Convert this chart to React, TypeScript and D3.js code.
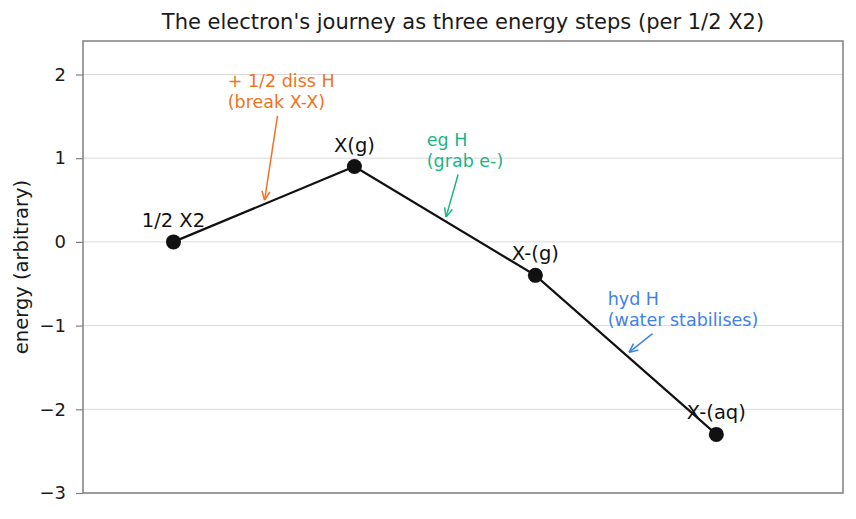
import { useEffect, useRef } from "react";
import * as d3 from "d3";

// Data
const stages = ["1/2 X2", "X(g)", "X-(g)", "X-(aq)"];
const energies = [0, 0.9, -0.4, -2.3];
const yTicks = [-3, -2, -1, 0, 1, 2];

const stepLines = [
  ["+ 1/2 diss H", "(break X-X)"],
  ["eg H", "(grab e-)"],
  ["hyd H", "(water stabilises)"],
];
const stepColors = ["#f07320", "#1bb585", "#3f82e8"];
const stepTextX = [0.3, 1.4, 2.4];
const stepTextY = [1.6, 0.9, -1.0];

export default function App() {
  const svgRef = useRef<SVGSVGElement>(null);

  useEffect(() => {
    if (!svgRef.current) return;
    const svg = d3.select(svgRef.current);
    svg.selectAll("*").remove();

    const width = 856;
    const height = 519;
    const margin = { top: 41, right: 13, bottom: 26, left: 83 };
    const innerW = width - margin.left - margin.right;
    const innerH = height - margin.top - margin.bottom;
    const font = "DejaVu Sans, sans-serif";

    const x = d3.scaleLinear().domain([-0.5, 3.7]).range([margin.left, margin.left + innerW]);
    const y = d3.scaleLinear().domain([-3, 2.4]).range([margin.top + innerH, margin.top]);

    svg.append("rect").attr("width", width).attr("height", height).attr("fill", "#fff");

    // Gridlines
    svg
      .append("g")
      .selectAll("line")
      .data(yTicks)
      .join("line")
      .attr("x1", margin.left)
      .attr("x2", margin.left + innerW)
      .attr("y1", (d) => y(d))
      .attr("y2", (d) => y(d))
      .attr("stroke", "#d6d6d6")
      .attr("stroke-width", 0.9);

    // Y axis
    const yAxis = svg
      .append("g")
      .attr("transform", `translate(${margin.left},0)`)
      .call(
        d3
          .axisLeft(y)
          .tickValues(yTicks)
          .tickSize(7)
          .tickPadding(10)
          .tickFormat((d) => d3.format("d")(d as number).replace("-", "\u2212"))
      );
    yAxis.select(".domain").remove();
    yAxis.selectAll("line").attr("stroke", "#7f7f7f").attr("stroke-width", 1.2);
    yAxis.selectAll("text").attr("fill", "#1a1a1a").style("font-size", "18px").style("font-family", font);

    // Frame
    svg
      .append("rect")
      .attr("x", margin.left)
      .attr("y", margin.top)
      .attr("width", innerW)
      .attr("height", innerH)
      .attr("fill", "none")
      .attr("stroke", "#808080")
      .attr("stroke-width", 1.5);

    // Line + markers
    const pts = energies.map((e, i) => ({ i, e }));
    const line = d3
      .line<{ i: number; e: number }>()
      .x((d) => x(d.i))
      .y((d) => y(d.e));

    svg
      .append("path")
      .datum(pts)
      .attr("fill", "none")
      .attr("stroke", "#111")
      .attr("stroke-width", 2.2)
      .attr("d", line);

    svg
      .append("g")
      .selectAll("circle")
      .data(pts)
      .join("circle")
      .attr("cx", (d) => x(d.i))
      .attr("cy", (d) => y(d.e))
      .attr("r", 7.5)
      .attr("fill", "#111");

    // Stage labels
    svg
      .append("g")
      .selectAll("text")
      .data(pts)
      .join("text")
      .attr("x", (d) => x(d.i))
      .attr("y", (d) => y(d.e) - 15)
      .attr("text-anchor", "middle")
      .attr("fill", "#111")
      .style("font-size", "19.5px")
      .style("font-family", font)
      .text((d) => stages[d.i]);

    // Step annotations with arrows
    svg
      .append("defs")
      .selectAll("marker")
      .data(stepColors)
      .join("marker")
      .attr("id", (_, i) => `arr${i}`)
      .attr("viewBox", "0 0 10 10")
      .attr("refX", 10)
      .attr("refY", 5)
      .attr("markerWidth", 10)
      .attr("markerHeight", 10)
      .attr("markerUnits", "userSpaceOnUse")
      .attr("orient", "auto")
      .append("path")
      .attr("d", "M1,1 L10,5 L1,9")
      .attr("fill", "none")
      .attr("stroke", (d) => d)
      .attr("stroke-width", 1.5);

    stepLines.forEach((lines, k) => {
      const tx = x(stepTextX[k]);
      const ty = y(stepTextY[k]);
      const lh = 20.5;
      const g = svg.append("g");
      const t = g
        .append("text")
        .attr("fill", stepColors[k])
        .style("font-size", "17.5px")
        .style("font-family", font);
      lines.forEach((s, j) => {
        t.append("tspan")
          .attr("x", tx)
          .attr("y", ty - (lines.length - 1 - j) * lh)
          .text(s);
      });
      const bb = (t.node() as SVGTextElement).getBBox();
      const cx = bb.x + bb.width / 2;
      const cy = bb.y + bb.height / 2;
      const targetX = x(k + 0.5);
      const targetY = y((energies[k] + energies[k + 1]) / 2);
      // start just below the text box, along the center->target line
      const startY = bb.y + bb.height + 4;
      const frac = (startY - cy) / (targetY - cy);
      const startX = cx + (targetX - cx) * frac;
      const dx = targetX - startX;
      const dy = targetY - startY;
      const len = Math.hypot(dx, dy);
      const shrink = 4;
      g.append("line")
        .attr("x1", startX)
        .attr("y1", startY)
        .attr("x2", targetX - (dx / len) * shrink)
        .attr("y2", targetY - (dy / len) * shrink)
        .attr("stroke", stepColors[k])
        .attr("stroke-width", 1.5)
        .attr("marker-end", `url(#arr${k})`);
    });

    // Title
    svg
      .append("text")
      .attr("x", margin.left + innerW / 2)
      .attr("y", 29)
      .attr("text-anchor", "middle")
      .attr("fill", "#1a1a1a")
      .style("font-size", "21px")
      .style("font-family", font)
      .text("The electron's journey as three energy steps (per 1/2 X2)");

    // Y label
    svg
      .append("text")
      .attr("transform", `translate(28,${margin.top + innerH / 2}) rotate(-90)`)
      .attr("text-anchor", "middle")
      .attr("fill", "#1a1a1a")
      .style("font-size", "19.5px")
      .style("font-family", font)
      .text("energy (arbitrary)");
  }, []);

  return (
    <div style={{ width: 856, height: 519, margin: -8 }}>
      <svg ref={svgRef} width={856} height={519} style={{ display: "block" }}></svg>
    </div>
  );
}
